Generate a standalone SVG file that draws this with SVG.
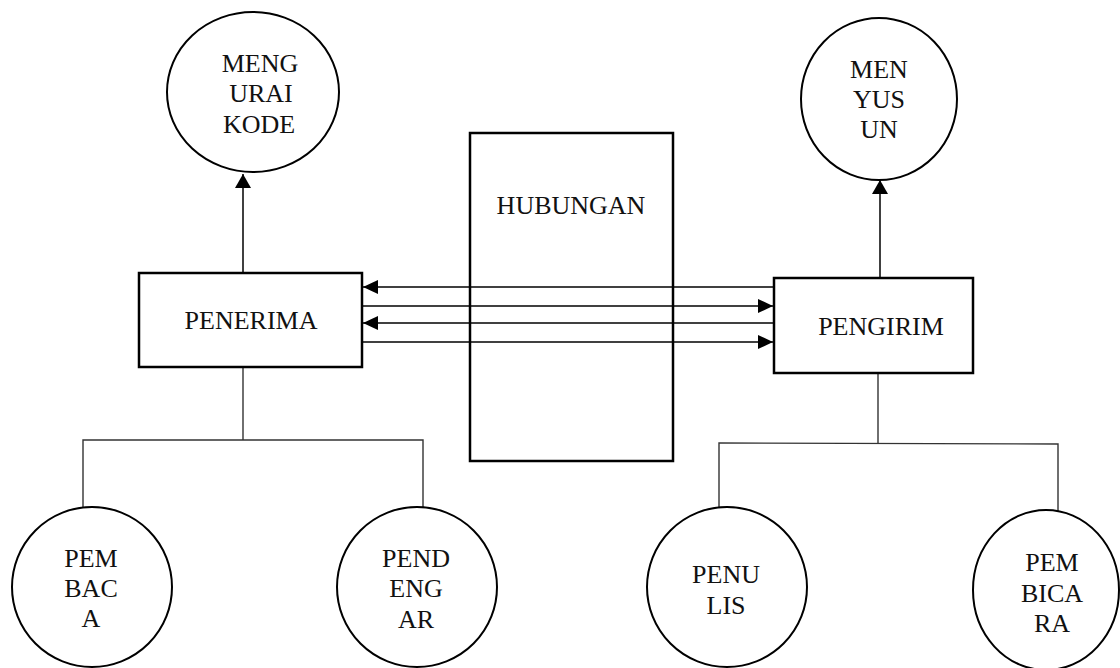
<svg xmlns="http://www.w3.org/2000/svg" width="1120" height="668" viewBox="0 0 1120 668">
<style>
.node{fill:#fff;stroke:#000;stroke-width:2.5}
.circ{fill:#fff;stroke:#000;stroke-width:2}
.lbl{font-family:"Liberation Serif","Times New Roman",serif;font-size:26px;fill:#111;text-anchor:middle}
.ln{stroke:#333;stroke-width:1.4;fill:none}
.arr{stroke:#000;stroke-width:1.5;fill:none}
</style>
<defs>
<marker id="ah" markerUnits="userSpaceOnUse" markerWidth="15" markerHeight="14" refX="15" refY="7" orient="auto">
<path d="M0,0 L15,7 L0,14 z" fill="#000"/>
</marker>
<marker id="av" markerUnits="userSpaceOnUse" markerWidth="14" markerHeight="16" refX="14" refY="8" orient="auto">
<path d="M0,0 L14,8 L0,16 z" fill="#000"/>
</marker>
</defs>
<rect width="1120" height="668" fill="#fff"/>
<g id="hubungan">
<rect class="node" x="470" y="133" width="203" height="328"/>
<text class="lbl" x="571" y="214">HUBUNGAN</text>
</g>
<g id="connectors">
<line class="arr" x1="243" y1="273" x2="243" y2="174" marker-end="url(#av)"/>
<line class="arr" x1="880" y1="278" x2="880" y2="180" marker-end="url(#av)"/>
<line class="arr" x1="774" y1="287" x2="363" y2="287" marker-end="url(#ah)"/>
<line class="arr" x1="362" y1="306" x2="773" y2="306" marker-end="url(#ah)"/>
<line class="arr" x1="774" y1="323" x2="363" y2="323" marker-end="url(#ah)"/>
<line class="arr" x1="362" y1="342" x2="773" y2="342" marker-end="url(#ah)"/>
<polyline class="ln" points="243,367 243,440"/>
<polyline class="ln" points="83,507 83,440 423,440 423,508"/>
<polyline class="ln" points="878,373 878,443"/>
<polyline class="ln" points="719,508 719,443 1058,444 1058,511"/>
</g>
<g id="menguraikode">
<ellipse class="circ" cx="253" cy="92" rx="86" ry="80"/>
<text class="lbl" x="260" y="72">MENG</text>
<text class="lbl" x="261" y="102">URAI</text>
<text class="lbl" x="259" y="133">KODE</text>
</g>
<g id="menyusun">
<ellipse class="circ" cx="879" cy="99" rx="78" ry="81"/>
<text class="lbl" x="879" y="78">MEN</text>
<text class="lbl" x="879" y="108">YUS</text>
<text class="lbl" x="879" y="138">UN</text>
</g>
<g id="penerima">
<rect class="node" x="139" y="273" width="223" height="94"/>
<text class="lbl" x="251" y="329">PENERIMA</text>
</g>
<g id="pengirim">
<rect class="node" x="774" y="278" width="199" height="95"/>
<text class="lbl" x="881" y="335">PENGIRIM</text>
</g>
<g id="pembaca">
<ellipse class="circ" cx="92" cy="587" rx="80" ry="80"/>
<text class="lbl" x="91" y="567">PEM</text>
<text class="lbl" x="91" y="597">BAC</text>
<text class="lbl" x="91" y="627">A</text>
</g>
<g id="pendengar">
<ellipse class="circ" cx="417" cy="587" rx="80" ry="80"/>
<text class="lbl" x="416" y="567">PEND</text>
<text class="lbl" x="416" y="597">ENG</text>
<text class="lbl" x="416" y="628">AR</text>
</g>
<g id="penulis">
<ellipse class="circ" cx="727" cy="587" rx="80" ry="80"/>
<text class="lbl" x="726" y="583">PENU</text>
<text class="lbl" x="726" y="614">LIS</text>
</g>
<g id="pembicara">
<ellipse class="circ" cx="1046" cy="590" rx="73" ry="80"/>
<text class="lbl" x="1052" y="571">PEM</text>
<text class="lbl" x="1052" y="602">BICA</text>
<text class="lbl" x="1052" y="632">RA</text>
</g>
</svg>
